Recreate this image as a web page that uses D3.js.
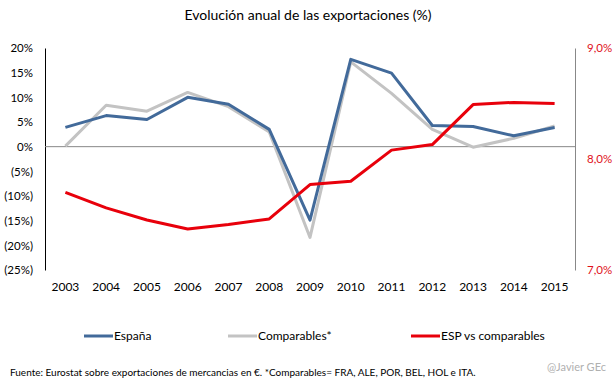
<!DOCTYPE html>
<html>
<head>
<meta charset="utf-8">
<script src="https://cdn.jsdelivr.net/npm/d3@7"></script>
<style>
  body { margin: 0; background: #fff; }
  svg { font-family: Lato, "Open Sans", sans-serif; }
</style>
</head>
<body>
<div id="chart"></div>
<script>
const years = ["2003", "2004", "2005", "2006", "2007", "2008", "2009", "2010", "2011", "2012", "2013", "2014", "2015"];
const espana = [3.9, 6.3, 5.5, 10.0, 8.6, 3.5, -14.9, 17.7, 14.9, 4.3, 4.1, 2.2, 3.9];
const comparables = [0.1, 8.4, 7.2, 11.0, 8.1, 3.0, -18.4, 17.2, 10.8, 3.5, -0.1, 1.7, 4.2];
const espVsComp = [7.70, 7.56, 7.45, 7.37, 7.41, 7.46, 7.77, 7.80, 8.08, 8.13, 8.49, 8.51, 8.50];
const leftTicks = [20, 15, 10, 5, 0, -5, -10, -15, -20, -25];
const rightTicks = [9, 8, 7];

const width = 616, height = 384;
const margin = { top: 48, right: 41, bottom: 114, left: 45 };

const svg = d3.select("#chart").append("svg")
  .attr("width", width).attr("height", height);

const x = d3.scaleBand().domain(years).range([margin.left, width - margin.right]);
const y = d3.scaleLinear().domain([-25, 20]).range([height - margin.bottom, margin.top]);
const y2 = d3.scaleLinear().domain([7, 9]).range([height - margin.bottom, margin.top]);

const fmtLeft = d => d < 0 ? `(${-d}%)` : `${d}%`;
const fmtRight = d => d3.format(".1f")(d).replace(".", ",") + "%";

svg.append("text")
  .attr("x", width / 2).attr("y", 20)
  .attr("text-anchor", "middle")
  .style("font-size", "14px")
  .text("Evolución anual de las exportaciones (%)");

// left axis
const gl = svg.append("g").attr("transform", `translate(${margin.left},0)`)
  .call(d3.axisLeft(y).tickValues(leftTicks).tickFormat(fmtLeft).tickSize(0).tickPadding(12));
gl.select(".domain").attr("stroke", "#000");
gl.selectAll("text").style("font-size", "11.5px").attr("fill", "#000")
  .style("font-family", "Lato, sans-serif");

// right axis
const gr = svg.append("g").attr("transform", `translate(${width - margin.right},0)`)
  .call(d3.axisRight(y2).tickValues(rightTicks).tickFormat(fmtRight).tickSize(0).tickPadding(12));
gr.select(".domain").attr("stroke", "#888");
gr.selectAll("text").style("font-size", "11.5px").attr("fill", "#e0101a")
  .style("font-family", "Lato, sans-serif");

// x labels
const gx = svg.append("g").attr("transform", `translate(0,${height - margin.bottom})`)
  .call(d3.axisBottom(x).tickSize(0).tickPadding(12));
gx.select(".domain").remove();
gx.selectAll("text").style("font-size", "12px").attr("fill", "#000")
  .style("font-family", "Lato, sans-serif");

// zero line
svg.append("line")
  .attr("x1", margin.left).attr("x2", width - margin.right)
  .attr("y1", y(0)).attr("y2", y(0))
  .attr("stroke", "#888").attr("stroke-width", 1);

const cx = d => x(d) + x.bandwidth() / 2;

const series = [
  { name: "España", values: espana, color: "#426a9a", scale: y },
  { name: "Comparables*", values: comparables, color: "#c3c3c3", scale: y },
  { name: "ESP vs comparables", values: espVsComp, color: "#e8000b", scale: y2 }
];

const draw = [series[1], series[0], series[2]];
draw.forEach(s => {
  const line = d3.line().x((d, i) => cx(years[i])).y(d => s.scale(d));
  svg.append("path")
    .datum(s.values)
    .attr("fill", "none")
    .attr("stroke", s.color)
    .attr("stroke-width", 3)
    .attr("stroke-linejoin", "round")
    .attr("d", line);
});

// legend
const legendX = [84, 228, 411];
const leg = svg.append("g").attr("transform", "translate(0,336)");
series.forEach((s, i) => {
  leg.append("line")
    .attr("x1", legendX[i]).attr("x2", legendX[i] + 29)
    .attr("y1", 0).attr("y2", 0)
    .attr("stroke", s.color).attr("stroke-width", 3);
  leg.append("text")
    .attr("x", legendX[i] + 30).attr("y", 4)
    .style("font-size", "12px")
    .text(s.name);
});

svg.append("text")
  .attr("x", 10).attr("y", 376)
  .style("font-size", "10px")
  .text("Fuente: Eurostat sobre exportaciones de mercancias en €. *Comparables= FRA, ALE, POR, BEL, HOL e ITA.");

svg.append("text")
  .attr("x", 606).attr("y", 371)
  .attr("text-anchor", "end")
  .style("font-size", "11px")
  .attr("fill", "#b0b0b0")
  .text("@Javier GEc");
</script>
</body>
</html>
